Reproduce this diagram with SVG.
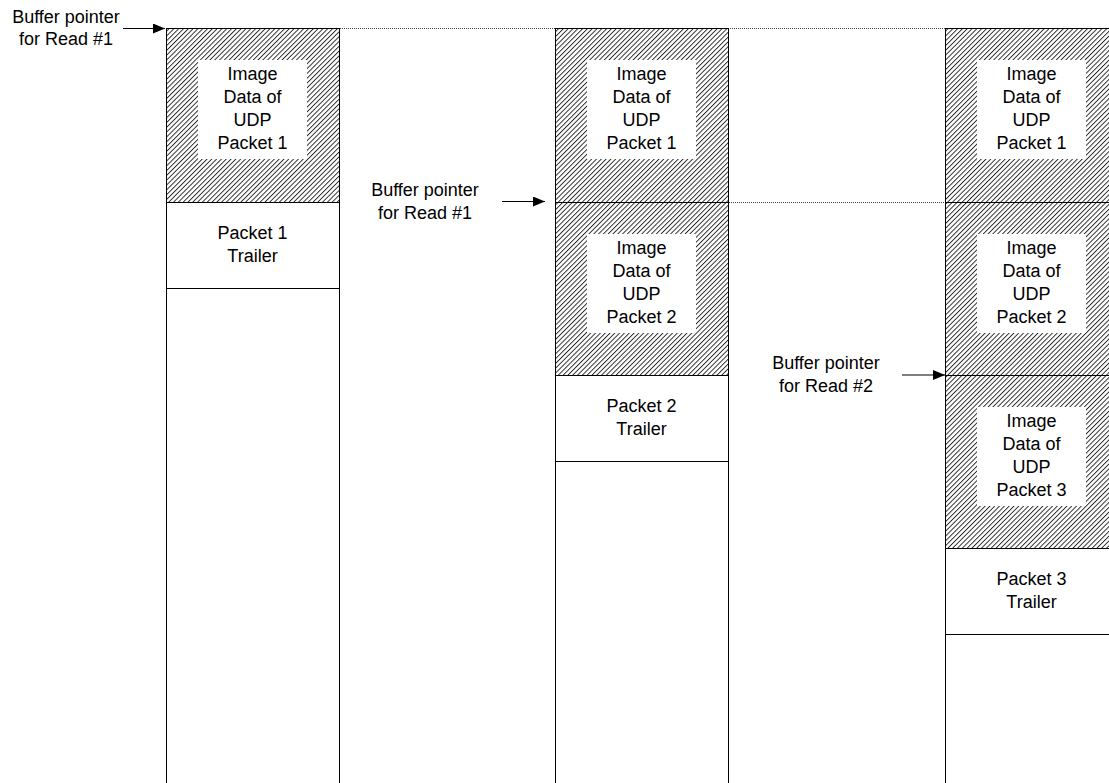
<svg xmlns="http://www.w3.org/2000/svg" width="1109" height="783" viewBox="0 0 1109 783">
<defs>
<pattern id="hatch" patternUnits="userSpaceOnUse" width="3.4" height="3.4" patternTransform="rotate(45)">
<rect width="3.4" height="3.4" fill="#fff"/>
<line x1="0.5" y1="0" x2="0.5" y2="3.4" stroke="#000" stroke-width="0.8"/>
</pattern>
<marker id="ah" markerWidth="12" markerHeight="10" refX="12" refY="5" orient="auto" markerUnits="userSpaceOnUse">
<path d="M0,0 L12,5 L0,10 Z" fill="#000"/>
</marker>
</defs>
<style>
text{font-family:"Liberation Sans",Arial,sans-serif;font-size:18px;fill:#000;text-anchor:middle}
.col{fill:#fff;stroke:#000;stroke-width:1}
.hb{fill:url(#hatch);stroke:#000;stroke-width:1}
.wb{fill:#fff;stroke:none}
.tr{fill:#fff;stroke:#000;stroke-width:1}
.dot{stroke:#444;stroke-width:1;stroke-dasharray:1 1;fill:none}
.arr{stroke:#000;stroke-width:1.2;fill:none;marker-end:url(#ah)}
</style>
<rect width="1109" height="783" fill="#fff"/>
<g id="connectors">
<line class="dot" x1="166" y1="28.5" x2="1109" y2="28.5"/>
<line class="dot" x1="555" y1="202.5" x2="1109" y2="202.5"/>
<line class="arr" x1="123" y1="28.5" x2="165" y2="28.5"/>
<line class="arr" x1="502" y1="201.5" x2="545" y2="201.5"/>
<line class="arr" x1="902" y1="375" x2="945" y2="375"/>
</g>
<g id="column1">
<rect class="col" x="166.5" y="28.5" width="173" height="760"/>
<g id="c1-data1">
<rect class="hb" x="166.5" y="28.5" width="173" height="174"/>
<rect class="wb" x="198" y="60" width="109" height="99"/>
<text x="252.5" y="80">Image</text><text x="252.5" y="103">Data of</text><text x="252.5" y="126">UDP</text><text x="252.5" y="149">Packet 1</text>
</g>
<g id="c1-trailer1">
<rect class="tr" x="166.5" y="202.5" width="173" height="86"/>
<text x="252.5" y="239">Packet 1</text><text x="252.5" y="262">Trailer</text>
</g>
</g>
<g id="column2">
<rect class="col" x="555.5" y="28.5" width="173" height="760"/>
<g id="c2-data1">
<rect class="hb" x="555.5" y="28.5" width="173" height="174"/>
<rect class="wb" x="587" y="60" width="109" height="99"/>
<text x="641.5" y="80">Image</text><text x="641.5" y="103">Data of</text><text x="641.5" y="126">UDP</text><text x="641.5" y="149">Packet 1</text>
</g>
<g id="c2-data2">
<rect class="hb" x="555.5" y="202.5" width="173" height="173"/>
<rect class="wb" x="587" y="234" width="109" height="99"/>
<text x="641.5" y="254">Image</text><text x="641.5" y="277">Data of</text><text x="641.5" y="300">UDP</text><text x="641.5" y="323">Packet 2</text>
</g>
<g id="c2-trailer2">
<rect class="tr" x="555.5" y="375.5" width="173" height="86"/>
<text x="641.5" y="412">Packet 2</text><text x="641.5" y="435">Trailer</text>
</g>
</g>
<g id="column3">
<rect class="col" x="945.5" y="28.5" width="180" height="760"/>
<g id="c3-data1">
<rect class="hb" x="945.5" y="28.5" width="180" height="174"/>
<rect class="wb" x="977" y="60" width="109" height="99"/>
<text x="1031.5" y="80">Image</text><text x="1031.5" y="103">Data of</text><text x="1031.5" y="126">UDP</text><text x="1031.5" y="149">Packet 1</text>
</g>
<g id="c3-data2">
<rect class="hb" x="945.5" y="202.5" width="180" height="173"/>
<rect class="wb" x="977" y="234" width="109" height="99"/>
<text x="1031.5" y="254">Image</text><text x="1031.5" y="277">Data of</text><text x="1031.5" y="300">UDP</text><text x="1031.5" y="323">Packet 2</text>
</g>
<g id="c3-data3">
<rect class="hb" x="945.5" y="375.5" width="180" height="173"/>
<rect class="wb" x="977" y="407" width="109" height="99"/>
<text x="1031.5" y="427">Image</text><text x="1031.5" y="450">Data of</text><text x="1031.5" y="473">UDP</text><text x="1031.5" y="496">Packet 3</text>
</g>
<g id="c3-trailer3">
<rect class="tr" x="945.5" y="548.5" width="180" height="86"/>
<text x="1031.5" y="585">Packet 3</text><text x="1031.5" y="608">Trailer</text>
</g>
</g>
<g id="label-read1-a">
<text x="66" y="23">Buffer pointer</text><text x="66" y="45">for Read #1</text>
</g>
<g id="label-read1-b">
<text x="425" y="196">Buffer pointer</text><text x="425" y="219">for Read #1</text>
</g>
<g id="label-read2">
<text x="826" y="369">Buffer pointer</text><text x="826" y="392">for Read #2</text>
</g>
</svg>
